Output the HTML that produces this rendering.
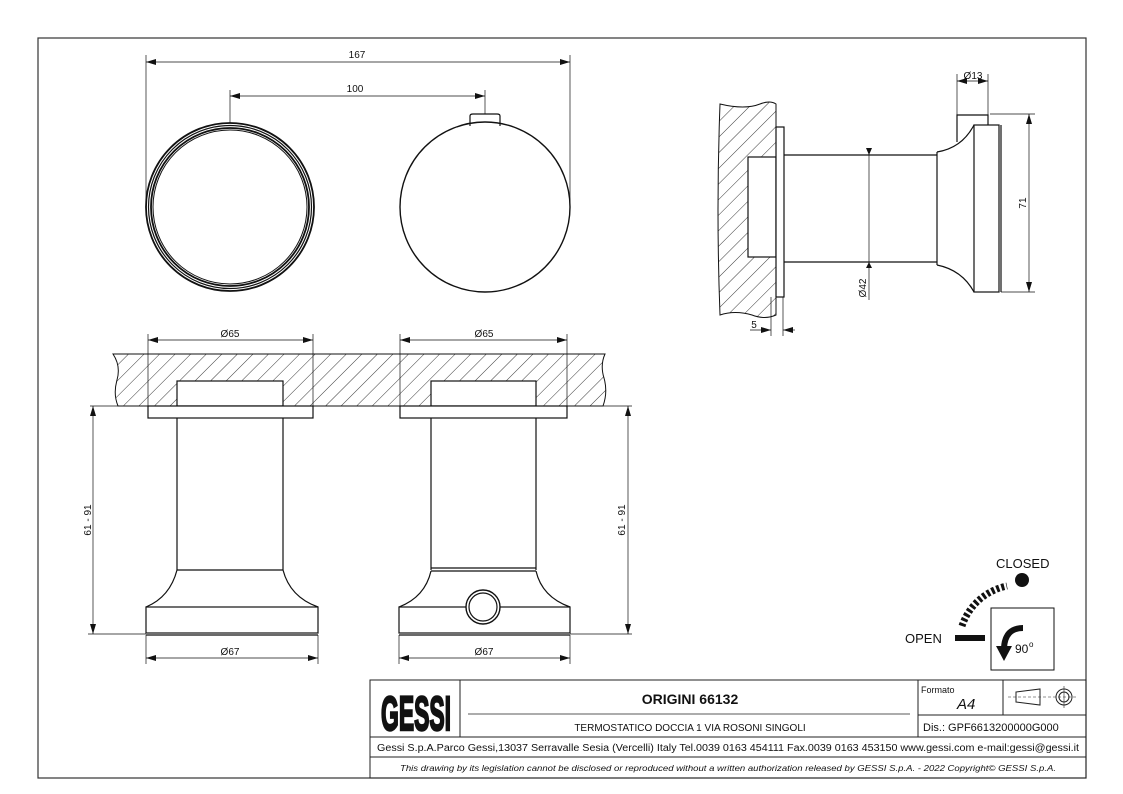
<!DOCTYPE html>
<html><head><meta charset="utf-8"><style>
html,body{margin:0;padding:0;background:#fff;}
svg{display:block;}
text{font-family:"Liberation Sans",sans-serif;fill:#111;}
</style></head><body>
<svg width="1123" height="794" viewBox="0 0 1123 794" xmlns="http://www.w3.org/2000/svg">
<defs>
<pattern id="h" patternUnits="userSpaceOnUse" width="11" height="11" patternTransform="rotate(45)">
<line x1="0" y1="0" x2="0" y2="11" stroke="#222" stroke-width="0.9"/>
</pattern>
<marker id="a" viewBox="0 0 10 6" refX="10" refY="3" markerWidth="10" markerHeight="6" orient="auto-start-reverse" markerUnits="userSpaceOnUse">
<path d="M0,0 L10,3 L0,6 z" fill="#111"/></marker>
</defs>
<rect x="38" y="38" width="1048" height="740" fill="none" stroke="#333" stroke-width="1.2"/>
<g stroke="#111" fill="none" stroke-width="1.2">
<circle cx="230" cy="207" r="84" stroke-width="1.8"/>
<circle cx="230" cy="207" r="81.5" stroke-width="1.2"/>
<circle cx="230" cy="207" r="79" stroke-width="1.8"/>
<circle cx="230" cy="207" r="77" stroke-width="1"/>
<circle cx="485" cy="207" r="85" stroke-width="1.4"/>
<path d="M470,126 V116 Q470,114 473,114 H497 Q500,114 500,116 V126"/>
<line x1="146" y1="55" x2="146" y2="207" stroke-width="0.7"/>
<line x1="570" y1="55" x2="570" y2="207" stroke-width="0.7"/>
<line x1="230" y1="90" x2="230" y2="123" stroke-width="0.7"/>
<line x1="485" y1="90" x2="485" y2="114" stroke-width="0.7"/>
<line x1="146" y1="62" x2="570" y2="62" stroke-width="0.7" marker-start="url(#a)" marker-end="url(#a)"/>
<line x1="230" y1="96" x2="485" y2="96" stroke-width="0.7" marker-start="url(#a)" marker-end="url(#a)"/>
<path d="M113,354 H605 Q600,365 604,378 Q608,392 603,406 H118 Q113,394 117,380 Q121,366 113,354 Z" fill="url(#h)" stroke-width="1"/>
<rect x="177" y="381" width="106" height="25" fill="#fff"/>
<rect x="431" y="381" width="105" height="25" fill="#fff"/>
<line x1="90" y1="406" x2="632" y2="406" stroke-width="0.8"/>
<rect x="148" y="406" width="165" height="12" fill="#fff"/>
<line x1="177" y1="418" x2="177" y2="570"/><line x1="283" y1="418" x2="283" y2="570"/>
<line x1="177" y1="570" x2="283" y2="570"/>
<path d="M177,570 Q170,597 146,607 M283,570 Q290,597 318,607"/>
<rect x="146" y="607" width="172" height="26"/>
<line x1="146" y1="635" x2="318" y2="635"/>
<line x1="148" y1="334" x2="148" y2="406" stroke-width="0.7"/>
<line x1="313" y1="334" x2="313" y2="406" stroke-width="0.7"/>
<line x1="148" y1="340" x2="313" y2="340" stroke-width="0.7" marker-start="url(#a)" marker-end="url(#a)"/>
<line x1="146" y1="635" x2="146" y2="664" stroke-width="0.7"/>
<line x1="318" y1="635" x2="318" y2="664" stroke-width="0.7"/>
<line x1="146" y1="658" x2="318" y2="658" stroke-width="0.7" marker-start="url(#a)" marker-end="url(#a)"/>
<line x1="88" y1="634" x2="146" y2="634" stroke-width="0.7"/>
<line x1="93" y1="406" x2="93" y2="634" stroke-width="0.7" marker-start="url(#a)" marker-end="url(#a)"/>
<rect x="400" y="406" width="167" height="12" fill="#fff"/>
<line x1="431" y1="418" x2="431" y2="570"/><line x1="536" y1="418" x2="536" y2="570"/>
<line x1="431" y1="568" x2="536" y2="568"/><line x1="431" y1="571" x2="536" y2="571"/>
<path d="M431,571 Q425,597 399,607 M536,571 Q542,597 570,607"/>
<rect x="399" y="607" width="171" height="26"/>
<line x1="399" y1="635" x2="570" y2="635"/>
<circle cx="483" cy="607" r="17" fill="#fff" stroke-width="1.4"/>
<circle cx="483" cy="607" r="14"/>
<line x1="400" y1="334" x2="400" y2="406" stroke-width="0.7"/>
<line x1="567" y1="334" x2="567" y2="406" stroke-width="0.7"/>
<line x1="400" y1="340" x2="567" y2="340" stroke-width="0.7" marker-start="url(#a)" marker-end="url(#a)"/>
<line x1="399" y1="635" x2="399" y2="664" stroke-width="0.7"/>
<line x1="570" y1="635" x2="570" y2="664" stroke-width="0.7"/>
<line x1="399" y1="658" x2="570" y2="658" stroke-width="0.7" marker-start="url(#a)" marker-end="url(#a)"/>
<line x1="570" y1="634" x2="632" y2="634" stroke-width="0.7"/>
<line x1="628" y1="406" x2="628" y2="634" stroke-width="0.7" marker-start="url(#a)" marker-end="url(#a)"/>
<path d="M720,104 Q745,110 760,104 Q770,100 776,104 V315 Q765,320 752,315 Q735,310 720,315 Q716,210 720,104 Z" fill="url(#h)" stroke-width="1"/>
<rect x="748" y="157" width="28" height="100" fill="#fff"/>
<rect x="776" y="127" width="8" height="170" fill="#fff"/>
<line x1="784" y1="155" x2="937" y2="155"/><line x1="784" y1="262" x2="937" y2="262"/>
<line x1="937" y1="152" x2="937" y2="265"/>
<path d="M937,152 Q962,148 974,125 M937,265 Q962,270 974,292"/>
<rect x="974" y="125" width="25" height="167"/>
<line x1="1001" y1="125" x2="1001" y2="292"/>
<path d="M957,142 V115 H988 V125"/>
<line x1="957" y1="74" x2="957" y2="115" stroke-width="0.7"/>
<line x1="988" y1="74" x2="988" y2="115" stroke-width="0.7"/>
<line x1="957" y1="81" x2="988" y2="81" stroke-width="0.7" marker-start="url(#a)" marker-end="url(#a)"/>
<line x1="990" y1="114" x2="1035" y2="114" stroke-width="0.7"/>
<line x1="1001" y1="292" x2="1035" y2="292" stroke-width="0.7"/>
<line x1="1029" y1="114" x2="1029" y2="292" stroke-width="0.7" marker-start="url(#a)" marker-end="url(#a)"/>
<line x1="869" y1="148" x2="869" y2="300" stroke-width="0.7"/>
<path d="M866,148 L869,155 L872,148 z M866,268 L869,262 L872,268 z" fill="#111" stroke="none"/>
<line x1="771" y1="297" x2="771" y2="336" stroke-width="0.7"/>
<line x1="783" y1="297" x2="783" y2="336" stroke-width="0.7"/>
<line x1="750" y1="330" x2="771" y2="330" stroke-width="0.7" marker-end="url(#a)"/>
<line x1="795" y1="330" x2="783" y2="330" stroke-width="0.7" marker-end="url(#a)"/>
<rect x="991" y="608" width="63" height="62" stroke-width="1"/>
</g>
<g font-size="10">
<text x="357" y="58" text-anchor="middle">167</text>
<text x="355" y="92" text-anchor="middle">100</text>
<text x="230" y="337" text-anchor="middle">Ø65</text>
<text x="484" y="337" text-anchor="middle">Ø65</text>
<text x="230" y="655" text-anchor="middle">Ø67</text>
<text x="484" y="655" text-anchor="middle">Ø67</text>
<text transform="translate(91,520) rotate(-90)" text-anchor="middle">61 - 91</text>
<text transform="translate(625,520) rotate(-90)" text-anchor="middle">61 - 91</text>
<text x="973" y="79" text-anchor="middle">Ø13</text>
<text transform="translate(1026,203) rotate(-90)" text-anchor="middle">71</text>
<text transform="translate(866,288) rotate(-90)" text-anchor="middle">Ø42</text>
<text x="754" y="328" text-anchor="middle">5</text>
</g>
<text x="996" y="568" font-size="13">CLOSED</text>
<text x="905" y="643" font-size="13">OPEN</text>
<circle cx="1022" cy="580" r="7" fill="#111"/>
<path d="M962,626 A60,60 0 0 1 1007,586" stroke="#111" stroke-width="7" fill="none" stroke-dasharray="3,2.2"/>
<rect x="955" y="635" width="30" height="6" fill="#111"/>
<path d="M1023,628 Q1005,628 1004,648" stroke="#111" stroke-width="6" fill="none"/>
<path d="M996,646 L1004,661 L1012,646 z" fill="#111"/>
<text x="1015" y="653" font-size="12">90</text><text x="1029" y="647" font-size="8">o</text>
<g stroke="#222" fill="none" stroke-width="1">
<rect x="370" y="680" width="716" height="98"/>
<line x1="370" y1="737" x2="1086" y2="737"/>
<line x1="370" y1="757" x2="1086" y2="757"/>
<line x1="460" y1="680" x2="460" y2="737"/>
<line x1="918" y1="680" x2="918" y2="737"/>
<line x1="1003" y1="680" x2="1003" y2="715"/>
<line x1="918" y1="715" x2="1086" y2="715"/>
<line x1="468" y1="714" x2="910" y2="714" stroke-width="0.8"/>
<path d="M1016,692 L1040,689 V705 L1016,702 Z"/>
<circle cx="1064" cy="697" r="8"/><circle cx="1064" cy="697" r="5"/>
<line x1="1008" y1="697" x2="1076" y2="697" stroke-dasharray="3,2" stroke-width="0.6"/>
<line x1="1064" y1="686" x2="1064" y2="708" stroke-width="0.6"/>
</g>
<text transform="translate(416,730) scale(1,1.6)" font-size="30" font-weight="bold" text-anchor="middle" textLength="70" lengthAdjust="spacingAndGlyphs" stroke="#111" stroke-width="1.5">GESSI</text>
<text x="690" y="704" font-size="14" font-weight="bold" text-anchor="middle">ORIGINI 66132</text>
<text x="690" y="731" font-size="10" text-anchor="middle">TERMOSTATICO DOCCIA 1 VIA ROSONI SINGOLI</text>
<text x="921" y="693" font-size="9">Formato</text>
<text x="957" y="709" font-size="15" font-style="italic">A4</text>
<text x="923" y="731" font-size="11">Dis.: GPF6613200000G000</text>
<text x="728" y="751" font-size="10" text-anchor="middle" textLength="702" lengthAdjust="spacingAndGlyphs">Gessi S.p.A.Parco Gessi,13037 Serravalle Sesia (Vercelli) Italy Tel.0039 0163 454111 Fax.0039 0163 453150 www.gessi.com e-mail:gessi@gessi.it</text>
<text x="728" y="771" font-size="8" font-style="italic" text-anchor="middle" textLength="656" lengthAdjust="spacingAndGlyphs">This drawing by its legislation cannot be disclosed or reproduced without a written authorization released by GESSI S.p.A. - 2022 Copyright© GESSI S.p.A.</text>
</svg>
</body></html>
